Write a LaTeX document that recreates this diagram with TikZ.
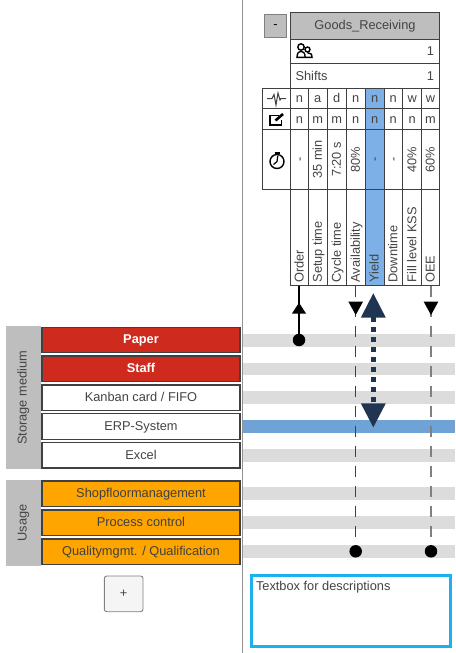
\documentclass[tikz,border=0pt]{standalone}
\usepackage{fontspec}
\setmainfont{Liberation Sans}
\definecolor{txt}{HTML}{444444}
\definecolor{edge}{HTML}{404040}
\definecolor{panel}{HTML}{BEBEBE}
\definecolor{band}{HTML}{DCDCDC}
\definecolor{sel}{HTML}{7CB0E6}
\definecolor{selband}{HTML}{6FA3D6}
\definecolor{navy}{HTML}{1F3552}
\definecolor{redbox}{HTML}{CE2A1E}
\definecolor{orangebox}{HTML}{FFA500}
\definecolor{sky}{HTML}{1BB0F0}
\newcommand{\dn}[1]{\raisebox{0pt}[7.6pt][0pt]{#1}}
\tikzset{
  x=1pt,y=-1pt,
  every node/.style={font=\fontsize{12.8}{14}\selectfont,text=txt,inner sep=0pt,outer sep=0pt},
  cellbox/.style={draw=edge,line width=.9pt,anchor=north west},
  rowbox/.style={draw=edge,line width=1.2pt,minimum width=198pt,minimum height=25.5pt,anchor=north west,fill=white},
  redrow/.style={rowbox,fill=redbox,text=white,font=\fontsize{12.8}{14}\selectfont\bfseries},
  orangerow/.style={rowbox,fill=orangebox,text=black!75},
  sidepanel/.style={fill=panel,minimum width=35pt,anchor=north west},
  vtext/.style={rotate=90,anchor=base},
  vlabel/.style={rotate=90,anchor=base west},
  endpoint/.style={circle,fill=black,minimum size=12.5pt},
  solidlink/.style={draw=black,line width=1.6pt},
  darkdash/.style={draw=edge,line width=1.2pt,dash pattern=on 11pt off 9pt},
  lightdash/.style={draw=gray,line width=1.2pt,dash pattern=on 11pt off 9pt},
  bigdash/.style={draw=navy,line width=4.6pt,dash pattern=on 5pt off 5pt},
  bandbar/.style={anchor=north west,minimum width=212pt,minimum height=12.7pt,fill=band},
}
\begin{document}
\begin{tikzpicture}
\useasboundingbox (0,0) rectangle (455,653);
\fill[white] (0,0) rectangle (455,653);
% separator
\draw[draw=gray!85,line width=1pt] (242,0) -- (242,653);
% bands
\node[bandbar] (b1) at (243,334) {};
\node[bandbar] (b2) at (243,362.5) {};
\node[bandbar] (b3) at (243,391.3) {};
\node[bandbar,fill=selband] (b4) at (243,420.3) {};
\node[bandbar] (b5) at (243,449) {};
\node[bandbar] (b6) at (243,487.3) {};
\node[bandbar] (b7) at (243,516.3) {};
\node[bandbar] (b8) at (243,545) {};
% minus button
\node[draw=gray,line width=.8pt,fill=panel,minimum width=22.4pt,minimum height=23pt,anchor=north west,text=black] (minus) at (264.3,14) {\raisebox{0pt}[6pt][0pt]{-}};
% header
\node[cellbox,fill=panel,minimum width=148.6pt,minimum height=27pt] (head) at (290.7,12) {\dn{Goods\_Receiving}};
\node[cellbox,minimum width=148.6pt,minimum height=24.3pt] (people) at (290.7,39) {};
\node[anchor=base east] (peoplenum) at (434,55.5) {1};
\node[cellbox,minimum width=148.6pt,minimum height=24.7pt] (shifts) at (290.7,63.3) {};
\node[anchor=base west] (shiftslab) at (295.5,80.2) {Shifts};
\node[anchor=base east] (shiftsnum) at (434,80.2) {1};
% icon cells
\node[cellbox,minimum width=28.4pt,minimum height=20.7pt] (i1) at (262.3,88) {};
\node[cellbox,minimum width=28.4pt,minimum height=20.6pt] (i2) at (262.3,108.7) {};
\node[cellbox,minimum width=28.4pt,minimum height=60pt] (i3) at (262.3,129.3) {};
% selected column
\fill[sel] (365.3,88) rectangle (384,285.7);
% grid
\draw[edge,line width=.9pt] (290.7,88) rectangle (439.3,285.7);
\foreach \yy in {108.7,129.3,189.3} \draw[edge,line width=.9pt] (290.7,\yy) -- (439.3,\yy);
\foreach \xx in {308.3,327.3,346.3,365.3,384,402.7,421.7} \draw[edge,line width=.9pt] (\xx,88) -- (\xx,285.7);
% status rows
\foreach \xx/\a/\b/\nm in {299.5/n/n/c1,317.8/a/m/c2,336.8/d/m/c3,355.8/n/n/c4,374.6/n/n/c5,393.3/n/n/c6,412.2/w/n/c7,430.5/w/m/c8}{
  \node[anchor=base] (s\nm) at (\xx,102.4) {\a};
  \node[anchor=base] (q\nm) at (\xx,123) {\b};
}
% time row
\foreach \xx/\t/\nm in {299.5/-/c1,317.8/35 min/c2,336.8/7:20 s/c3,355.8/80\%/c4,374.6/-/c5,393.3/-/c6,412.2/40\%/c7,430.5/60\%/c8}{
  \node[vtext] (t\nm) at (\xx+4.1,159.5) {\t};
}
% labels
\foreach \xx/\t/\nm in {299.5/Order/c1,317.8/Setup time/c2,336.8/Cycle time/c3,355.8/Availability/c4,374.6/Yield/c5,393.3/Downtime/c6,412.2/Fill level KSS/c7,430.5/OEE/c8}{
  \node[vlabel] (l\nm) at (\xx+4.1,282.5) {\t};
}
% icons
\begin{scope}[line width=1.4pt,draw=black]
  % people
  \draw (301,47) circle (3.2);
  \draw (297,57.3) .. controls (297.2,52.5) and (299,51.3) .. (301,51.3) .. controls (303,51.3) and (305,52.5) .. (305.2,57.3) -- cycle;
  \draw (307.5,49.5) circle (2.5);
  \draw (305.5,57.3) -- (312,57.3) .. controls (312,54) and (310.5,52.8) .. (307.5,52.8);
  % pulse
  \draw[line width=1pt,draw=black!75] (267,98.5) -- (272,98.5) -- (274,94.5) -- (276,105) -- (278,93) -- (280,100) -- (281,98.5) -- (286,98.5);
  % note
  \draw[line width=1.7pt] (279,115.5) -- (270,115.5) -- (270,125) -- (281.5,125) -- (281.5,120);
  \draw[line width=2.6pt] (275.5,120.5) -- (283,114);
  % clock
  \draw[line width=1.4pt] (277,161.5) circle (7);
  \draw[line width=1.2pt] (277.8,155.8) -- (277,161.5) -- (273.5,164.5);
  \draw[line width=1.4pt] (274.5,153) -- (279.5,153);
\end{scope}
% connector endpoints
\node[endpoint] (dot1) at (299,340) {};
\node[endpoint] (dot2) at (355.7,551.3) {};
\node[endpoint] (dot3) at (431,551.3) {};
\coordinate (top1) at (299,285.7);
\coordinate (top2) at (355.7,285.7);
\coordinate (top3) at (431,285.7);
\coordinate (bigtop) at (373.3,317);
\coordinate (bigbot) at (373.3,404);
\path[solidlink] (top1) -- (dot1);
\path[darkdash] (top2) -- (dot2);
\path[lightdash] (top3) -- (dot3);
\path[bigdash] (bigtop) -- (bigbot);
% arrowheads
\fill[black] (299,302.7) -- (306,313.5) -- (292,313.5) -- cycle;
\fill[black] (355.7,315) -- (348.4,301.7) -- (363,301.7) -- cycle;
\fill[black] (431,315) -- (423.7,301.7) -- (438.3,301.7) -- cycle;
\fill[navy] (373.3,293.3) -- (385.8,317.7) -- (360.8,317.7) -- cycle;
\fill[navy] (373.3,427.3) -- (385.8,403.3) -- (360.8,403.3) -- cycle;
% left panels
\node[sidepanel,minimum height=143.3pt] (stor) at (6,326) {};
\node[vtext] (storlab) at (26.5,397.8) {Storage medium};
\node[sidepanel,minimum height=85.7pt] (usage) at (6,480) {};
\node[vtext] (usagelab) at (26.5,523) {Usage};
\node[redrow] (paper) at (42,327.3) {\dn{Paper}};
\node[redrow] (staff) at (42,356) {\dn{Staff}};
\node[rowbox] (kanban) at (42,385) {\dn{Kanban card / FIFO}};
\node[rowbox] (erp) at (42,413.7) {\dn{ERP-System}};
\node[rowbox] (excel) at (42,442.5) {\dn{Excel}};
\node[orangerow] (shop) at (42,481) {\dn{Shopfloormanagement}};
\node[orangerow] (proc) at (42,510) {\dn{Process control}};
\node[orangerow] (qual) at (42,539) {\dn{Qualitymgmt. / Qualification}};
% plus
\node[draw=gray,line width=.9pt,fill=black!4,rounded corners=2.5pt,minimum width=38.7pt,minimum height=35.7pt,anchor=north west] (plus) at (104.3,576) {\dn{+}};
% textbox
\node[draw=sky,line width=3pt,minimum width=199pt,minimum height=70.5pt,anchor=north west] (desc) at (251.5,575.8) {};
\node[anchor=base west] (desclab) at (256,590.7) {Textbox for descriptions};
\end{tikzpicture}
\end{document}
